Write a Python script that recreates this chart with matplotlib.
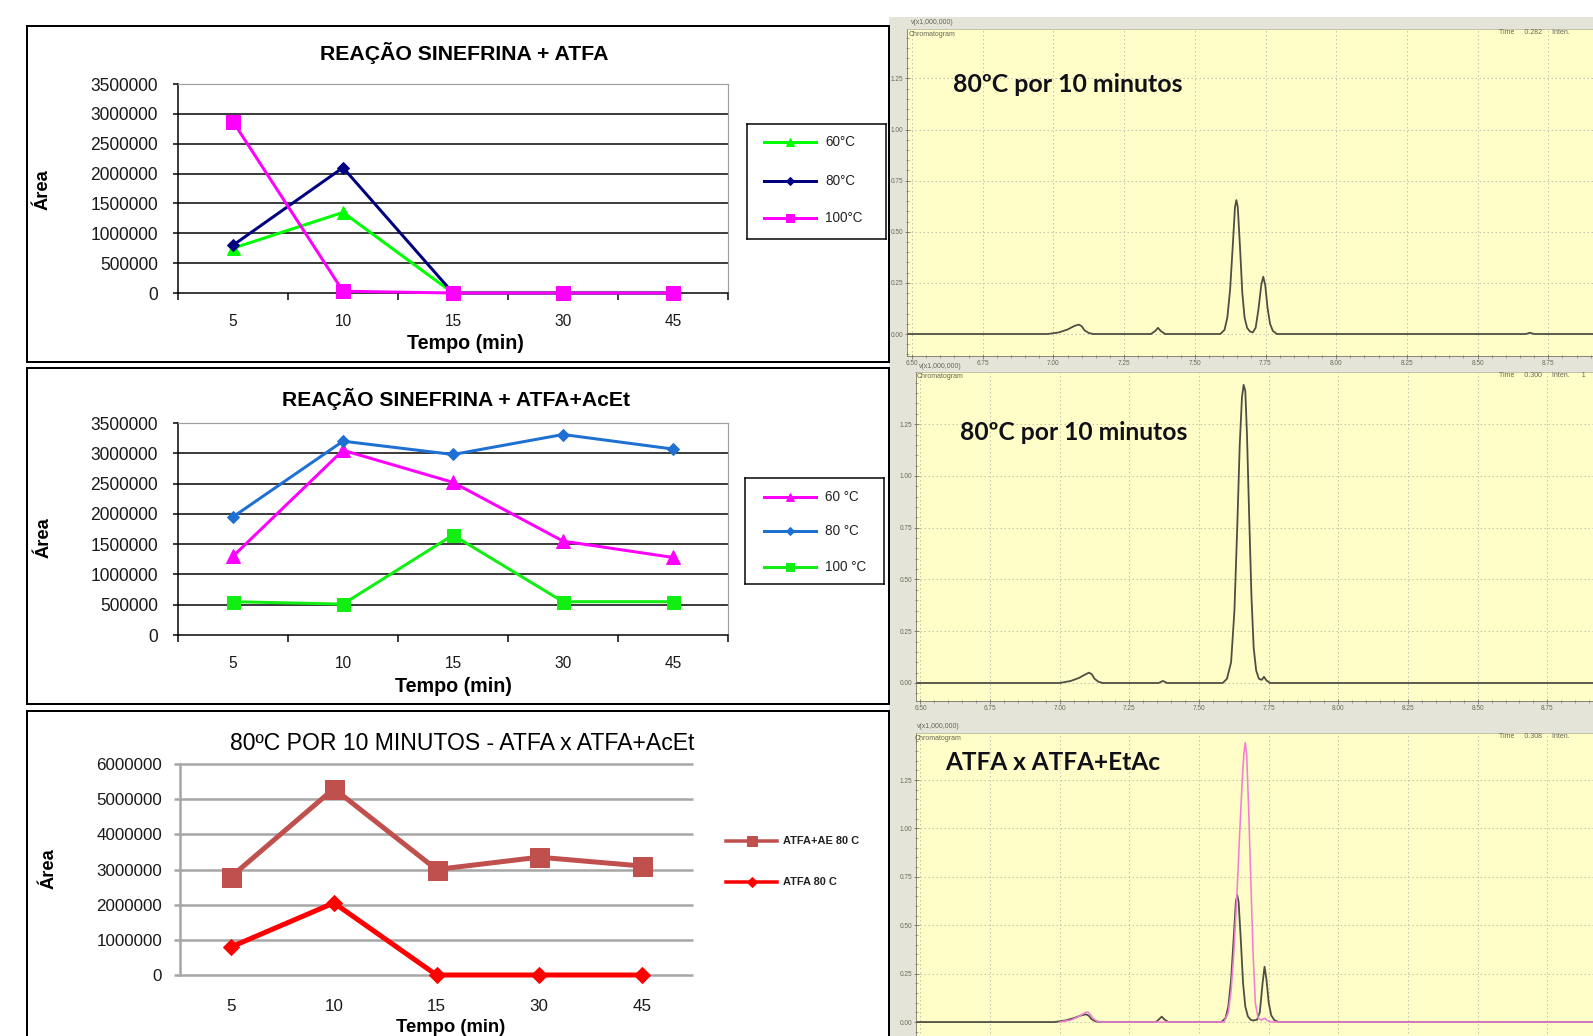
import numpy as np
import matplotlib

matplotlib.use("Agg")
import matplotlib.pyplot as plt
from matplotlib import font_manager
from matplotlib.patches import Rectangle
from matplotlib.ticker import MultipleLocator, FormatStrFormatter

W, H = 1593, 1036
DPI = 72  # 1 pt == 1 px


def pick_font(*names):
    for name in names:
        try:
            font_manager.findfont(name, fallback_to_default=False)
            return name
        except ValueError:
            continue
    return "DejaVu Sans"


NARROW = pick_font("Liberation Sans Narrow", "Liberation Sans")
ARIAL = pick_font("Liberation Sans", "DejaVu Sans")
CALIBRI = pick_font("Lato", "Open Sans", "Liberation Sans")
plt.rcParams["font.family"] = [NARROW, "DejaVu Sans"]

# ---- dados dos gráficos (Área x Tempo) ----
TEMPOS = ["5", "10", "15", "30", "45"]

ATFA_60 = [750000, 1350000, 0, 0, 0]
ATFA_80 = [800000, 2100000, 0, 0, 0]
ATFA_100 = [2870000, 30000, 0, 0, 0]

ACET_60 = [1300000, 3050000, 2520000, 1550000, 1280000]
ACET_80 = [1950000, 3200000, 2980000, 3310000, 3070000]
ACET_100 = [550000, 510000, 1650000, 550000, 550000]

CMP_ACET_80 = [2800000, 5300000, 3000000, 3350000, 3100000]
CMP_ATFA_80 = [800000, 2050000, 0, 0, 0]

# ---- cromatogramas (min, V x 1 000 000) ----
CHROM_TICKS = [6.50, 6.75, 7.00, 7.25, 7.50, 7.75, 8.00, 8.25, 8.50, 8.75]
INTEN_TICKS = [0.00, 0.25, 0.50, 0.75, 1.00, 1.25]

P1_T = [6.48, 6.98, 7.02, 7.05, 7.075, 7.09, 7.10, 7.11, 7.125, 7.14,
        7.345, 7.36, 7.37, 7.38, 7.395,
        7.59, 7.605, 7.615, 7.625, 7.635, 7.642, 7.647, 7.652, 7.66, 7.668,
        7.676, 7.685, 7.695, 7.705, 7.715, 7.725, 7.735, 7.742, 7.749,
        7.757, 7.766, 7.776, 7.79, 8.67, 8.685, 8.70, 8.92]
P1_I = [0, 0, 0.008, 0.022, 0.04, 0.046, 0.038, 0.018, 0.005, 0,
        0, 0.015, 0.03, 0.014, 0,
        0, 0.02, 0.08, 0.22, 0.45, 0.62, 0.655, 0.62, 0.42, 0.2,
        0.08, 0.03, 0.012, 0.008, 0.03, 0.12, 0.24, 0.28, 0.24,
        0.13, 0.05, 0.015, 0, 0, 0.006, 0, 0]

P2_T = [6.48, 7.0, 7.04, 7.07, 7.09, 7.105, 7.115, 7.125, 7.14, 7.155,
        7.355, 7.37, 7.385,
        7.585, 7.60, 7.615, 7.627, 7.637, 7.646, 7.654, 7.66, 7.666, 7.672,
        7.68, 7.688, 7.696, 7.705, 7.715, 7.725, 7.733, 7.742, 7.755, 8.92]
P2_I = [0, 0, 0.01, 0.025, 0.04, 0.05, 0.042, 0.02, 0.005, 0,
        0, 0.01, 0,
        0, 0.02, 0.1, 0.35, 0.75, 1.15, 1.38, 1.44, 1.41, 1.2,
        0.8, 0.42, 0.17, 0.06, 0.02, 0.015, 0.03, 0.012, 0, 0]

P3_ATFA_T = [6.48, 6.98, 7.02, 7.05, 7.078, 7.094, 7.104, 7.114, 7.128, 7.145,
             7.345, 7.356, 7.366, 7.376, 7.39,
             7.58, 7.595, 7.605, 7.615, 7.625, 7.632, 7.637, 7.642, 7.65, 7.658,
             7.666, 7.675, 7.685, 7.695, 7.708, 7.718, 7.728, 7.735, 7.742,
             7.75, 7.759, 7.77, 7.785, 8.92]
P3_ATFA_I = [0, 0, 0.008, 0.02, 0.035, 0.04, 0.033, 0.015, 0.004, 0,
             0, 0.014, 0.028, 0.013, 0,
             0, 0.02, 0.08, 0.22, 0.45, 0.62, 0.656, 0.62, 0.42, 0.2,
             0.08, 0.03, 0.012, 0.008, 0.012, 0.05, 0.2, 0.286, 0.22,
             0.1, 0.035, 0.01, 0, 0]

P3_ACET_T = [7.0, 7.04, 7.07, 7.09, 7.1, 7.11, 7.12, 7.135, 7.15,
             7.59, 7.605, 7.615, 7.625, 7.636, 7.645, 7.654, 7.661, 7.666,
             7.671, 7.678, 7.686, 7.694, 7.702, 7.712, 7.725, 7.735, 7.745,
             7.76, 8.92]
P3_ACET_I = [0, 0.01, 0.03, 0.048, 0.052, 0.04, 0.018, 0.004, 0,
             0, 0.05, 0.16, 0.36, 0.66, 0.95, 1.22, 1.39, 1.443,
             1.38, 1.1, 0.72, 0.35, 0.1, 0.02, 0.01, 0.02, 0.008,
             0, 0]

YELLOW = "#fffec8"
PANEL_GRAY = "#e4e4d8"
TRACE = "#4e4e44"
PINK = "#f27fd4"

fig = plt.figure(figsize=(W / DPI, H / DPI), dpi=DPI, facecolor="white")
renderer = fig.canvas.get_renderer()


def px_rect(x0, y0, x1, y1):
    return [x0 / W, 1 - y1 / H, (x1 - x0) / W, (y1 - y0) / H]


def put_text(x, y, s, width=None, **kw):
    kw.setdefault("ha", "center")
    kw.setdefault("va", "center")
    t = fig.text(x / W, 1 - y / H, s, **kw)
    if width:
        ext = t.get_window_extent(renderer)
        t.set_fontsize(t.get_fontsize() * width / max(ext.width, ext.height))
    return t


def box(x0, y0, x1, y1, lw=2.0):
    fig.patches.append(Rectangle((x0 / W, 1 - y1 / H), (x1 - x0) / W, (y1 - y0) / H,
                                 transform=fig.transFigure, fill=False,
                                 ec="black", lw=lw, zorder=5))


# fundo da coluna de cromatogramas
fig.patches.append(Rectangle((889 / W, 0), (W - 889) / W, 1 - 17 / H,
                             transform=fig.transFigure, fc=PANEL_GRAY,
                             ec="none", zorder=-1))


def classic_chart(rect, series, ymax, ystep):
    ax = fig.add_axes(px_rect(*rect))
    n = len(TEMPOS)
    xs = np.arange(n) + 0.5
    ax.set_xlim(0, n)
    ax.set_ylim(0, ymax)
    yt = np.arange(0, ymax + 1, ystep)
    ax.hlines(yt[1:-1], 0, n, colors="black", lw=1.5, zorder=1)
    for vals, color, marker, ms in series:
        ax.plot(xs, vals, color=color, lw=3, marker=marker, ms=ms,
                mfc=color, mec=color, zorder=3, clip_on=False)
    ax.set_yticks(yt)
    ax.set_yticklabels([f"{int(v)}" for v in yt])
    ax.set_xticks(np.arange(n + 1))
    ax.set_xticklabels([])
    ax.set_xticks(xs, minor=True)
    ax.set_xticklabels(TEMPOS, minor=True)
    ax.tick_params(axis="x", which="major", direction="out", length=7, width=1.5)
    ax.tick_params(axis="x", which="minor", length=0, pad=21, labelsize=15.5,
                   labelcolor="#1a1a1a")
    ax.tick_params(axis="y", direction="out", length=5, width=1.5, pad=15,
                   labelsize=17.5, labelcolor="#1a1a1a")
    for side in ("left", "bottom"):
        ax.spines[side].set_linewidth(1.5)
    for side in ("top", "right"):
        ax.spines[side].set_color("#a0a0a0")
        ax.spines[side].set_linewidth(1.2)
    return ax


def legend_box(rect, entries, rows, framed=True, lw=3, fs=13.5, weight="normal"):
    x0, y0, x1, y1 = rect
    lax = fig.add_axes(px_rect(*rect))
    lax.set_xlim(0, x1 - x0)
    lax.set_ylim(y1 - y0, 0)
    lax.set_xticks([])
    lax.set_yticks([])
    for sp in lax.spines.values():
        sp.set_visible(framed)
        sp.set_linewidth(1.5)
    lax.patch.set_alpha(0 if not framed else 1)
    for (label, color, marker, ms), (y, lx0, lx1, tx) in zip(entries, rows):
        lax.plot([lx0, lx1], [y, y], color=color, lw=lw)
        lax.plot([(lx0 + lx1) / 2], [y], marker=marker, ms=ms, color=color)
        lax.text(tx, y, label, ha="left", va="center", fontsize=fs,
                 family=ARIAL, weight=weight, color="#222222")
    return lax


# ---------- gráfico 1 ----------
classic_chart((178, 84, 728, 293),
              [(ATFA_60, "#00ff00", "^", 13),
               (ATFA_80, "#000080", "D", 9),
               (ATFA_100, "#ff00ff", "s", 14)],
              3500000, 500000)
put_text(464, 53, "REAÇÃO SINEFRINA + ATFA", width=290, weight="bold", fontsize=24)
put_text(465, 343, "Tempo (min)", width=117, weight="bold", fontsize=20)
put_text(43, 190, "Área", width=41, weight="bold", rotation=90, fontsize=17)
legend_box((747, 124, 886, 239),
           [("60°C", "#00ff00", "^", 8), ("80°C", "#000080", "D", 6),
            ("100°C", "#ff00ff", "s", 8)],
           [(18, 17, 69, 78), (57, 17, 69, 78), (94, 17, 69, 78)])
box(27, 26, 889, 362)

# ---------- gráfico 2 ----------
classic_chart((178, 423, 728, 635),
              [(ACET_60, "#ff00ff", "^", 14),
               (ACET_80, "#1e70d2", "D", 9),
               (ACET_100, "#11ee11", "s", 13)],
              3500000, 500000)
put_text(456, 399, "REAÇÃO SINEFRINA + ATFA+AcEt", width=349, weight="bold", fontsize=24)
put_text(453, 686, "Tempo (min)", width=117, weight="bold", fontsize=20)
put_text(44, 538, "Área", width=41, weight="bold", rotation=90, fontsize=17)
legend_box((745, 478, 884, 584),
           [("60 °C", "#ff00ff", "^", 8), ("80 °C", "#1e70d2", "D", 6),
            ("100 °C", "#11ee11", "s", 8)],
           [(19, 19, 71, 80), (53, 19, 71, 80), (89, 19, 71, 80)])
box(27, 368, 889, 704)

# ---------- gráfico 3 ----------
ax3 = fig.add_axes(px_rect(180, 764, 693, 975))
n = len(TEMPOS)
xs = np.arange(n) + 0.5
ax3.set_xlim(0, n)
ax3.set_ylim(0, 6000000)
yt3 = np.arange(0, 6000001, 1000000)
ax3.hlines(yt3, 0, n, colors="#a6a6a6", lw=2.5, zorder=1, clip_on=False)
ax3.plot(xs, CMP_ACET_80, color="#c0504d", lw=5, marker="s", ms=19, zorder=3)
ax3.plot(xs, CMP_ATFA_80, color="#ff0000", lw=5, marker="D", ms=12, zorder=4,
         clip_on=False)
ax3.set_yticks(yt3)
ax3.set_yticklabels([f"{int(v)}" for v in yt3])
ax3.set_xticks(xs)
ax3.set_xticklabels(TEMPOS)
ax3.tick_params(axis="x", length=0, pad=24, labelsize=17, labelcolor="#1a1a1a")
ax3.tick_params(axis="y", direction="out", length=6, width=2.5, color="#a6a6a6",
                pad=12, labelsize=17, labelcolor="#1a1a1a")
for side in ("top", "right", "bottom"):
    ax3.spines[side].set_visible(False)
ax3.spines["left"].set_color("#a6a6a6")
ax3.spines["left"].set_linewidth(2.5)
put_text(462, 744, "80ºC POR 10 MINUTOS - ATFA x ATFA+AcEt", width=464, fontsize=24)
put_text(451, 1027, "Tempo (min)", width=110, weight="bold", fontsize=20)
put_text(49, 869, "Área", width=41, weight="bold", rotation=90, fontsize=17)
legend_box((715, 820, 880, 900),
           [("ATFA+AE 80 C", "#c0504d", "s", 10), ("ATFA 80 C", "#ff0000", "D", 7)],
           [(21, 11, 62, 68), (62, 11, 62, 68)],
           framed=False, lw=3.5, fs=11, weight="bold")
box(27, 711, 889, 1045)


# ---------- cromatogramas ----------
def chromatogram(rect, xlim, ylim, xlabels=True):
    ax = fig.add_axes(px_rect(*rect), facecolor=YELLOW)
    ax.set_xlim(*xlim)
    ax.set_ylim(*ylim)
    ax.set_xticks(CHROM_TICKS)
    ax.xaxis.set_minor_locator(MultipleLocator(0.05))
    ax.set_yticks(INTEN_TICKS)
    ax.yaxis.set_minor_locator(MultipleLocator(0.05))
    ax.xaxis.set_major_formatter(FormatStrFormatter("%.2f"))
    ax.yaxis.set_major_formatter(FormatStrFormatter("%.2f"))
    ax.grid(True, which="major", ls=(0, (1.5, 2.5)), color="#c4c4b0", lw=1)
    ax.tick_params(which="both", direction="inout", colors="#707062",
                   labelsize=6.5, labelcolor="#6a6a5c", pad=1.5,
                   labelbottom=xlabels)
    ax.tick_params(which="major", length=5)
    ax.tick_params(which="minor", length=3)
    for side, col in (("left", "#707062"), ("bottom", "#707062"),
                      ("top", "#b4b4a4"), ("right", "#b4b4a4")):
        ax.spines[side].set_color(col)
    return ax


def chrom_header(x_left, y_top, plot_top, info):
    put_text(x_left, y_top, "v(x1,000,000)", ha="left", fontsize=7,
             family=ARIAL, color="#66665a")
    put_text(x_left - 2, plot_top + 5, "Chromatogram", ha="left", fontsize=7,
             family=ARIAL, color="#66665a")
    put_text(1499, plot_top + 4, info, ha="left", fontsize=7, family=ARIAL,
             color="#66665a")


c1 = chromatogram((907, 29, 1593, 356), (6.4823, 8.908), (-0.1076, 1.492))
c1.plot(P1_T, P1_I, color=TRACE, lw=1.8)
chrom_header(911, 22, 29, "Time     0.282     Inten.")
put_text(953, 85, "80ºC por 10 minutos", width=229, ha="left", weight="bold",
         family=CALIBRI, fontsize=22, color="#101018")

c2 = chromatogram((916, 372, 1593, 701), (6.484, 8.914), (-0.087, 1.502))
c2.plot(P2_T, P2_I, color=TRACE, lw=1.8)
chrom_header(919, 367, 372, "Time     0.300     Inten.      1")
put_text(960, 432, "80ºC por 10 minutos", width=227, ha="left", weight="bold",
         family=CALIBRI, fontsize=22, color="#101018")

c3 = chromatogram((916, 733, 1593, 1060), (6.484, 8.914), (-0.196, 1.493),
                  xlabels=False)
c3.plot(P3_ATFA_T, P3_ATFA_I, color=TRACE, lw=1.8)
c3.plot(P3_ACET_T, P3_ACET_I, color=PINK, lw=1.6)
chrom_header(917, 727, 733, "Time     0.308     Inten.")
put_text(945, 763, "ATFA x ATFA+EtAc", width=215, ha="left", weight="bold",
         family=CALIBRI, fontsize=26, color="#101018")

fig.savefig("out.png", dpi=DPI, facecolor="white")
